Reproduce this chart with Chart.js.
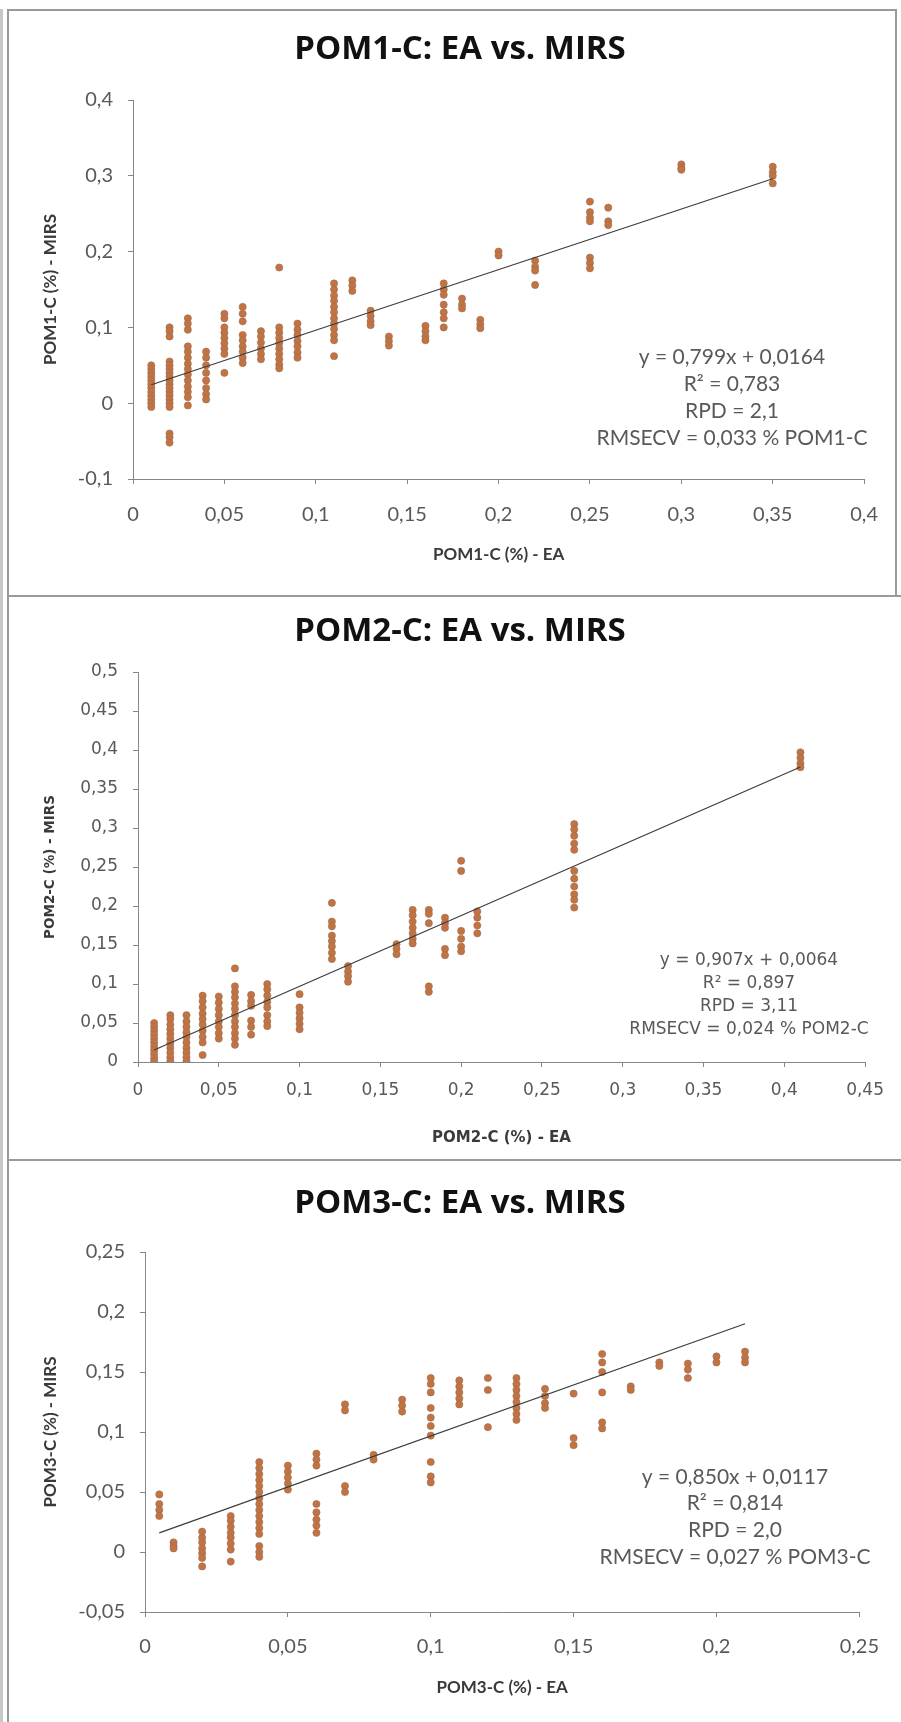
<!DOCTYPE html>
<html>
<head>
<meta charset="utf-8">
<title>POM-C: EA vs. MIRS</title>
<script src="https://cdn.jsdelivr.net/npm/chart.js@4.4.0/dist/chart.umd.min.js"></script>
<style>
  html, body { margin: 0; padding: 0; background: #fff; }
  body { width: 901px; height: 1722px; position: relative; overflow: hidden; }
  .linea { position: absolute; background: #9a9a9a; }
  canvas { position: absolute; left: 8px; }
</style>
</head>
<body>
<div class="linea" style="left:0;top:9px;width:3px;height:1713px;background:#c8c8c8"></div>
<div class="linea" style="left:7px;top:9px;width:2px;height:1713px"></div>
<div class="linea" style="left:7px;top:9px;width:890px;height:2px"></div>
<div class="linea" style="left:895px;top:9px;width:2px;height:587px"></div>
<div class="linea" style="left:7px;top:595px;width:894px;height:2px"></div>
<div class="linea" style="left:7px;top:1159px;width:894px;height:2px"></div>

<canvas id="pom1" width="889" height="585" style="top:10px"></canvas>
<canvas id="pom2" width="889" height="562" style="top:597px"></canvas>
<canvas id="pom3" width="889" height="561" style="top:1161px"></canvas>

<script>
// POM1-C: valores EA (columnas) y MIRS leidos para cada columna
var pom1EA = [0.01, 0.02, 0.03, 0.04, 0.05, 0.06, 0.07, 0.08, 0.09, 0.11, 0.12, 0.13,
              0.14, 0.16, 0.17, 0.18, 0.19, 0.2, 0.22, 0.25, 0.26, 0.3, 0.35];
var pom1MIRS = [
  [0.05, 0.045, 0.04, 0.035, 0.03, 0.025, 0.02, 0.015, 0.01, 0.005, 0, -0.005],
  [0.1, 0.095, 0.088, 0.055, 0.05, 0.045, 0.04, 0.035, 0.03, 0.025, 0.02, 0.015, 0.01, 0.005, 0, -0.005, -0.04, -0.045, -0.052],
  [0.112, 0.105, 0.097, 0.075, 0.068, 0.06, 0.052, 0.045, 0.038, 0.03, 0.022, 0.015, 0.008, -0.003],
  [0.068, 0.06, 0.05, 0.04, 0.03, 0.02, 0.012, 0.005],
  [0.118, 0.112, 0.1, 0.093, 0.086, 0.079, 0.072, 0.065, 0.04],
  [0.127, 0.118, 0.108, 0.09, 0.083, 0.075, 0.068, 0.06, 0.053],
  [0.095, 0.088, 0.08, 0.072, 0.065, 0.058],
  [0.179, 0.1, 0.093, 0.086, 0.079, 0.072, 0.065, 0.058, 0.051, 0.046],
  [0.105, 0.097, 0.09, 0.082, 0.075, 0.067, 0.06],
  [0.158, 0.15, 0.142, 0.135, 0.127, 0.12, 0.112, 0.105, 0.098, 0.09, 0.083, 0.062],
  [0.162, 0.155, 0.148],
  [0.122, 0.115, 0.108, 0.103],
  [0.088, 0.082, 0.076],
  [0.102, 0.095, 0.088, 0.083],
  [0.158, 0.15, 0.143, 0.13, 0.12, 0.112, 0.1],
  [0.138, 0.13, 0.125],
  [0.11, 0.104, 0.099],
  [0.2, 0.195],
  [0.188, 0.18, 0.175, 0.156],
  [0.266, 0.252, 0.245, 0.24, 0.192, 0.185, 0.178],
  [0.258, 0.24, 0.235],
  [0.315, 0.31, 0.308],
  [0.312, 0.305, 0.3, 0.29]
];
var pom1Fit = [0.799, 0.0164];
var pom1Stats = ['y = 0,799x + 0,0164', 'R\u00b2 = 0,783', 'RPD = 2,1', 'RMSECV = 0,033 % POM1-C'];

// POM2-C
var pom2EA = [0.01, 0.02, 0.03, 0.04, 0.05, 0.06, 0.07, 0.08, 0.1, 0.12, 0.13, 0.16,
              0.17, 0.18, 0.19, 0.2, 0.21, 0.27, 0.41];
var pom2MIRS = [
  [0.05, 0.045, 0.04, 0.035, 0.03, 0.025, 0.02, 0.015, 0.01, 0.005, 0.001],
  [0.06, 0.055, 0.048, 0.042, 0.036, 0.03, 0.024, 0.018, 0.012, 0.006, 0.001],
  [0.06, 0.052, 0.045, 0.038, 0.032, 0.025, 0.018, 0.012, 0.006, 0.001],
  [0.085, 0.078, 0.07, 0.062, 0.055, 0.048, 0.04, 0.032, 0.025, 0.009],
  [0.084, 0.076, 0.068, 0.06, 0.052, 0.045, 0.037, 0.03],
  [0.12, 0.097, 0.09, 0.083, 0.075, 0.068, 0.06, 0.052, 0.045, 0.037, 0.03, 0.022],
  [0.086, 0.078, 0.072, 0.053, 0.045, 0.035],
  [0.1, 0.093, 0.085, 0.077, 0.07, 0.06, 0.052, 0.046],
  [0.087, 0.07, 0.063, 0.056, 0.049, 0.042],
  [0.204, 0.18, 0.174, 0.162, 0.155, 0.148, 0.14, 0.132],
  [0.123, 0.116, 0.11, 0.103],
  [0.151, 0.145, 0.138],
  [0.195, 0.188, 0.18, 0.172, 0.165, 0.158, 0.152],
  [0.195, 0.19, 0.178, 0.097, 0.09],
  [0.185, 0.178, 0.172, 0.145, 0.137],
  [0.258, 0.245, 0.168, 0.158, 0.148, 0.142],
  [0.193, 0.185, 0.175, 0.165],
  [0.305, 0.298, 0.29, 0.28, 0.272, 0.245, 0.235, 0.225, 0.215, 0.208, 0.198],
  [0.397, 0.39, 0.383, 0.378]
];
var pom2Fit = [0.907, 0.0064];
var pom2Stats = ['y = 0,907x + 0,0064', 'R\u00b2 = 0,897', 'RPD = 3,11', 'RMSECV = 0,024 % POM2-C'];

// POM3-C
var pom3EA = [0.005, 0.01, 0.02, 0.03, 0.04, 0.05, 0.06, 0.07, 0.08, 0.09, 0.1, 0.11,
              0.12, 0.13, 0.14, 0.15, 0.16, 0.17, 0.18, 0.19, 0.2, 0.21];
var pom3MIRS = [
  [0.048, 0.04, 0.035, 0.03],
  [0.008, 0.005, 0.003],
  [0.017, 0.012, 0.008, 0.003, -0.001, -0.005, -0.012],
  [0.03, 0.026, 0.021, 0.016, 0.012, 0.007, 0.002, -0.008],
  [0.075, 0.07, 0.065, 0.06, 0.055, 0.05, 0.045, 0.04, 0.035, 0.03, 0.025, 0.02, 0.015, 0.005, 0, -0.004],
  [0.072, 0.067, 0.062, 0.057, 0.052],
  [0.082, 0.077, 0.072, 0.04, 0.033, 0.027, 0.022, 0.016],
  [0.123, 0.118, 0.055, 0.05],
  [0.081, 0.077],
  [0.127, 0.122, 0.117],
  [0.145, 0.14, 0.133, 0.12, 0.112, 0.105, 0.097, 0.075, 0.063, 0.058],
  [0.143, 0.138, 0.133, 0.128, 0.123],
  [0.145, 0.135, 0.104],
  [0.145, 0.14, 0.135, 0.13, 0.125, 0.12, 0.115, 0.11],
  [0.136, 0.13, 0.124, 0.12],
  [0.132, 0.095, 0.089],
  [0.165, 0.158, 0.15, 0.133, 0.108, 0.103],
  [0.138, 0.135],
  [0.158, 0.155],
  [0.157, 0.152, 0.145],
  [0.163, 0.158],
  [0.167, 0.162, 0.158]
];
var pom3Fit = [0.850, 0.0117];
var pom3Stats = ['y = 0,850x + 0,0117', 'R\u00b2 = 0,814', 'RPD = 2,0', 'RMSECV = 0,027 % POM3-C'];

// numeros con coma decimal
function coma(v) {
  return String(Math.round(v * 1000) / 1000).replace('.', ',');
}

// aplana columnas -> puntos {x, y}
function puntos(xs, ys) {
  var out = [];
  xs.forEach(function (x, i) {
    ys[i].forEach(function (y) { out.push({ x: x, y: y }); });
  });
  return out;
}

// linea de tendencia entre el minimo y el maximo de EA
function recta(xs, fit) {
  var x0 = Math.min.apply(null, xs), x1 = Math.max.apply(null, xs);
  return [{ x: x0, y: fit[0] * x0 + fit[1] }, { x: x1, y: fit[0] * x1 + fit[1] }];
}

// titulo y ecuacion dibujados sobre el canvas
var textoPanel = {
  id: 'textoPanel',
  afterDraw: function (chart, args, o) {
    var ctx = chart.ctx;
    ctx.save();
    ctx.textAlign = 'center';
    ctx.textBaseline = 'middle';
    ctx.fillStyle = '#111';
    ctx.font = o.tituloFont;
    ctx.fillText(o.titulo, o.tx, o.ty);
    ctx.fillStyle = '#595959';
    ctx.font = o.statsFont;
    o.lineas.forEach(function (t, i) { ctx.fillText(t, o.sx, o.sy + i * o.paso); });
    ctx.restore();
  }
};

function grafica(id, p) {
  return new Chart(document.getElementById(id), {
    type: 'scatter',
    data: {
      datasets: [{
        type: 'line',
        data: recta(p.xs, p.fit),
        borderColor: '#3c3c3c',
        borderWidth: 1.2,
        pointRadius: 0,
        fill: false
      }, {
        data: puntos(p.xs, p.ys),
        pointRadius: 3.6,
        pointBackgroundColor: '#c2733f',
        pointBorderColor: '#9c6e5c',
        pointBorderWidth: 0.6
      }]
    },
    options: {
      responsive: false,
      animation: false,
      events: [],
      layout: { padding: { left: 0, top: p.top, right: p.right, bottom: 0 } },
      plugins: {
        legend: { display: false },
        tooltip: { enabled: false },
        textoPanel: {
          titulo: p.titulo, tituloFont: 'bold 33px "Open Sans"', tx: 452, ty: p.ty,
          lineas: p.stats, statsFont: p.statsFont, sx: p.sx, sy: p.sy, paso: p.paso
        }
      },
      scales: {
        x: {
          type: 'linear', min: p.xMin, max: p.xMax,
          ticks: { stepSize: 0.05, callback: coma, color: '#595959', font: { family: p.fam, size: p.tickSize }, padding: p.xTickPad, maxRotation: 0, autoSkip: false },
          grid: { drawOnChartArea: false, color: '#868686', tickLength: 5 },
          border: { color: '#868686' },
          title: { display: true, text: p.xTitle, color: '#3a3a3a', font: { family: p.fam, size: p.xTitleSize, weight: 'bold' }, padding: { top: 0, bottom: p.xTitlePad } },
          afterFit: function (s) { s.height = p.xH; }
        },
        y: {
          type: 'linear', min: p.yMin, max: p.yMax,
          ticks: { stepSize: p.yStep, callback: coma, color: '#595959', font: { family: p.fam, size: p.tickSize }, padding: 15 },
          grid: { drawOnChartArea: false, color: '#868686', tickLength: 5 },
          border: { color: '#868686' },
          title: { display: true, text: p.yTitle, color: '#3a3a3a', font: { family: p.fam, size: p.yTitleSize, weight: 'bold' }, padding: { top: p.yTitlePad, bottom: 0 } },
          afterFit: function (s) { s.width = p.yW; }
        }
      }
    },
    plugins: [textoPanel]
  });
}

grafica('pom1', {
  xs: pom1EA, ys: pom1MIRS, fit: pom1Fit, stats: pom1Stats,
  titulo: 'POM1-C: EA vs. MIRS', ty: 40,
  xTitle: 'POM1-C (%) - EA', yTitle: 'POM1-C (%) - MIRS',
  xMin: 0, xMax: 0.4, yMin: -0.1, yMax: 0.4, yStep: 0.1,
  top: 90, right: 22, yW: 125, xH: 116,
  fam: 'Lato', tickSize: 20, xTitleSize: 17, yTitleSize: 17,
  xTickPad: 19, xTitlePad: 30, yTitlePad: 32,
  statsFont: '21px Lato', sx: 724, sy: 347, paso: 27
});

grafica('pom2', {
  xs: pom2EA, ys: pom2MIRS, fit: pom2Fit, stats: pom2Stats,
  titulo: 'POM2-C: EA vs. MIRS', ty: 35,
  xTitle: 'POM2-C (%) - EA', yTitle: 'POM2-C (%) - MIRS',
  xMin: 0, xMax: 0.45, yMin: 0, yMax: 0.5, yStep: 0.05,
  top: 75, right: 27, yW: 130, xH: 97,
  fam: '"DejaVu Sans"', tickSize: 17, xTitleSize: 15, yTitleSize: 13.5,
  xTickPad: 13, xTitlePad: 12, yTitlePad: 34,
  statsFont: '17px "DejaVu Sans"', sx: 741, sy: 364, paso: 23
});

grafica('pom3', {
  xs: pom3EA, ys: pom3MIRS, fit: pom3Fit, stats: pom3Stats,
  titulo: 'POM3-C: EA vs. MIRS', ty: 43,
  xTitle: 'POM3-C (%) - EA', yTitle: 'POM3-C (%) - MIRS',
  xMin: 0, xMax: 0.25, yMin: -0.05, yMax: 0.25, yStep: 0.05,
  top: 91, right: 26, yW: 137, xH: 110,
  fam: 'Lato', tickSize: 20, xTitleSize: 17, yTitleSize: 17,
  xTickPad: 18, xTitlePad: 24, yTitlePad: 32,
  statsFont: '21px Lato', sx: 727, sy: 316, paso: 26.7
});
</script>
</body>
</html>
